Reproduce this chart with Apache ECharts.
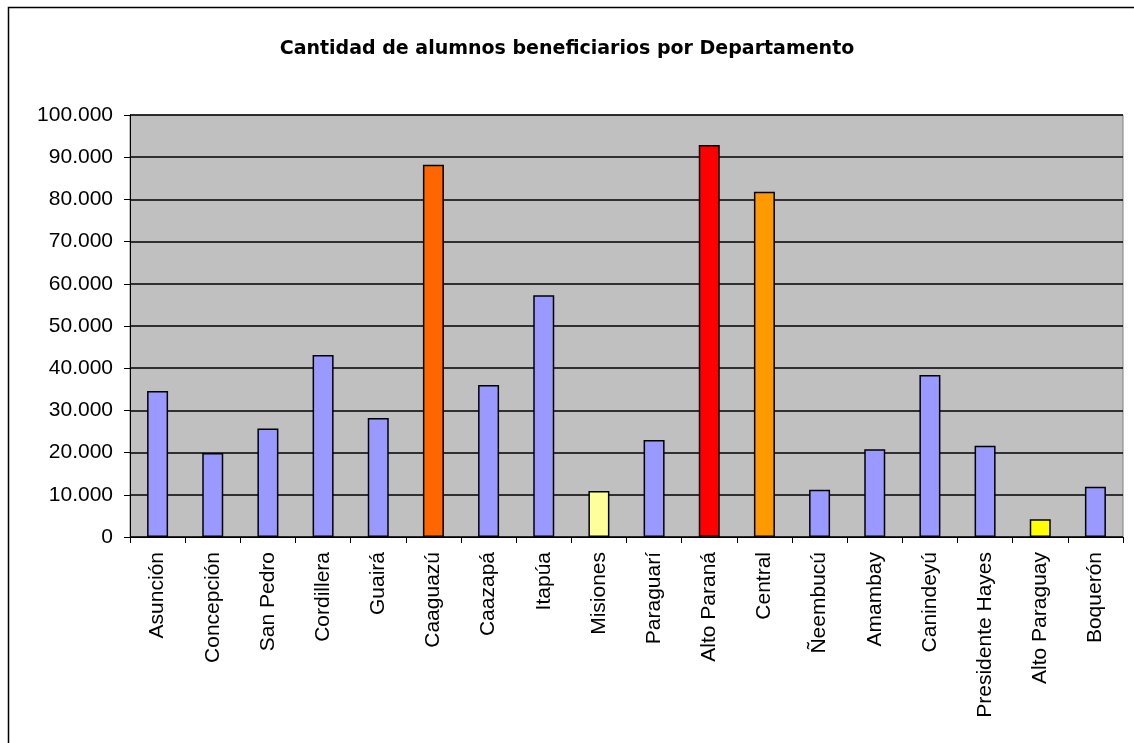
<!DOCTYPE html>
<html>
<head>
<meta charset="utf-8">
<script src="https://cdn.jsdelivr.net/npm/echarts@6/dist/echarts.min.js"></script>
<style>
  html, body { margin: 0; padding: 0; background: #fff; }
  #chart { width: 1134px; height: 743px; }
</style>
</head>
<body>
<div id="chart"></div>
<script>
const departamentos = ['Asunción', 'Concepción', 'San Pedro', 'Cordillera', 'Guairá', 'Caaguazú',
  'Caazapá', 'Itapúa', 'Misiones', 'Paraguarí', 'Alto Paraná', 'Central', 'Ñeembucú',
  'Amambay', 'Canindeyú', 'Presidente Hayes', 'Alto Paraguay', 'Boquerón']
const alumnos = [34600, 19900, 25700, 43100, 28200, 88200, 36000, 57300, 10900, 23000,
  92900, 81800, 11200, 20800, 38400, 21600, 4200, 11900]
const colores = ['#9999ff', '#9999ff', '#9999ff', '#9999ff', '#9999ff', '#ff6600',
  '#9999ff', '#9999ff', '#ffff99', '#9999ff', '#ff0000', '#ff9900', '#9999ff',
  '#9999ff', '#9999ff', '#9999ff', '#ffff00', '#9999ff']

const chart = echarts.init(document.getElementById('chart'))

// 100000 -> "100.000"
function miles(v) {
  return String(v).replace(/\B(?=(\d{3})+(?!\d))/g, '.')
}

chart.setOption({
  animation: false,
  backgroundColor: '#fff',
  title: {
    text: 'Cantidad de alumnos beneficiarios por Departamento',
    left: 'center', top: 35,
    textStyle: { fontFamily: 'DejaVu Sans', fontWeight: 'bold', fontSize: 19, color: '#000' }
  },
  graphic: [{
    type: 'rect',
    shape: { x: 8.5, y: 7.5, width: 1140, height: 760 },
    style: { fill: null, stroke: '#000', lineWidth: 1.5 },
    silent: true
  }],
  grid: {
    left: 130, right: 11, top: 115, bottom: 206,
    show: true, backgroundColor: '#c0c0c0', borderColor: '#808080', borderWidth: 1
  },
  xAxis: {
    type: 'category',
    data: departamentos,
    axisLine: { lineStyle: { color: '#000', width: 1 } },
    axisTick: { show: true, length: 6, lineStyle: { color: '#000' } },
    axisLabel: {
      rotate: 90, interval: 0, margin: 15,
      fontFamily: 'Liberation Sans', fontSize: 21, color: '#000'
    }
  },
  yAxis: {
    type: 'value', min: 0, max: 100000, interval: 10000,
    axisLine: { show: true, lineStyle: { color: '#000', width: 1 } },
    axisTick: { show: true, length: 6, lineStyle: { color: '#000' } },
    axisLabel: {
      margin: 17, formatter: miles,
      fontFamily: 'Liberation Sans', fontSize: 21, color: '#000'
    },
    splitLine: { lineStyle: { color: '#000', width: 1.5 } }
  },
  series: [{
    type: 'bar',
    barWidth: 21,
    data: alumnos.map((v, i) => ({
      value: v,
      itemStyle: { color: colores[i], borderColor: '#000', borderWidth: 1.5 }
    }))
  }]
})
</script>
</body>
</html>
